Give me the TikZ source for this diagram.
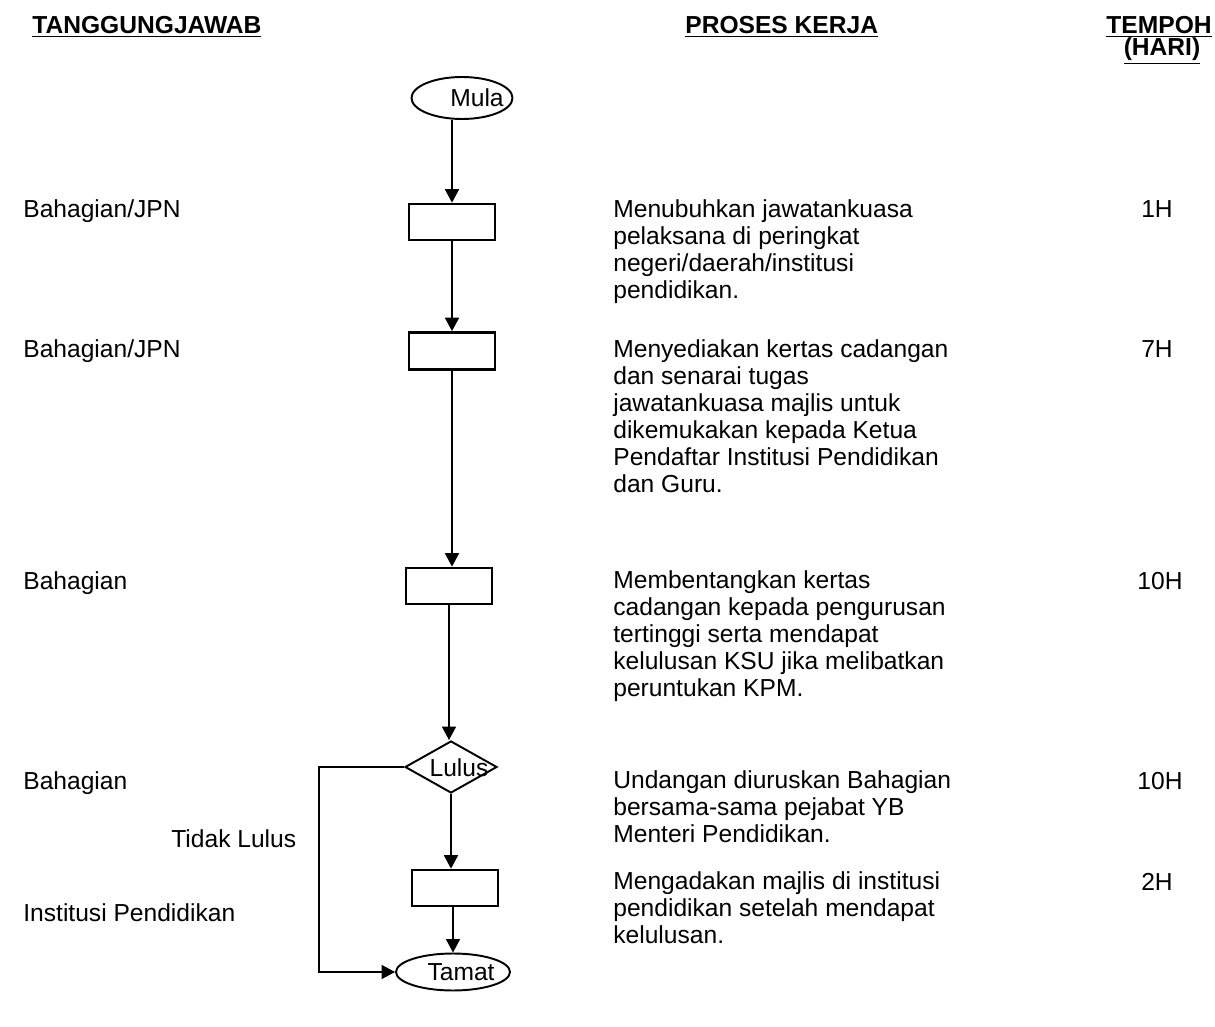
\documentclass[tikz,border=0pt]{standalone}
\usepackage{fontspec}
\setmainfont{Liberation Sans}
\usetikzlibrary{shapes.geometric,arrows.meta}
\begin{document}
\begin{tikzpicture}[x=0.02cm,y=-0.02cm,
    every node/.style={font=\fontsize{14}{15.4}\selectfont},
    tajuk/.style={font=\fontsize{14}{15.4}\selectfont\bfseries,anchor=base west,inner sep=0},
    label kiri/.style={anchor=base west,inner sep=0},
    langkah/.style={anchor=north west,align=left,inner sep=0},
    hari/.style={anchor=base,inner sep=0},
    proses/.style={draw,line width=1.5pt,minimum width=1.72cm,minimum height=0.72cm,inner sep=0},
    terminal/.style={draw,ellipse,line width=1.1pt,inner sep=0},
    keputusan/.style={draw,diamond,line width=1.1pt,minimum width=1.84cm,minimum height=1.04cm,inner sep=0},
    aliran/.style={line width=0.9pt,-{Triangle[length=0.27cm,width=0.28cm]}}]
  \useasboundingbox (0,0) rectangle (1215,1027);
  %% Tajuk lajur
  \node[tajuk] (tjawab) at (32,34) {\underline{TANGGUNGJAWAB}};
  \node[tajuk] (tproses) at (685,34) {\underline{PROSES KERJA}};
  \node[tajuk,anchor=base east] (ttempoh) at (1212,34) {\underline{TEMPOH}};
  \node[tajuk,anchor=base] (thari) at (1162,56) {\underline{(HARI)}};
  %% Carta alir
  \node[terminal,minimum width=2.02cm,minimum height=0.84cm] (mula) at (462,98) {};
  \node[hari] (tmula) at (477,107) {Mula};
  \node[proses] (b1) at (452,222) {};
  \node[proses,minimum height=0.74cm] (b2) at (452,351) {};
  \node[proses] (b3) at (449,586) {};
  \node[keputusan] (lulus) at (451,767) {};
  \node[hari] (tlulus) at (459,776) {Lulus};
  \node[proses] (b4) at (455,888) {};
  \node[terminal,minimum width=2.28cm,minimum height=0.74cm] (tamat) at (453,972) {};
  \node[hari] (ttamat) at (461,980) {Tamat};
  \coordinate (sudut) at (319,0);
  %% Anak panah
  \draw[aliran] (b1.north |- mula.south) -- (b1.north);
  \draw[aliran] (b1) -- (b2);
  \draw[aliran] (b2.south) -- (b2.south |- b3.north);
  \draw[aliran] (b3.south) -- (b3.south |- lulus.north);
  \draw[aliran] (lulus.south) -- (lulus.south |- b4.north);
  \draw[aliran] (b4.south -| tamat.north) -- (tamat.north);
  \draw[aliran] (lulus.west) -- (lulus.west -| sudut) -- (sudut |- tamat.west) -- (tamat.west);
  %% Tanggungjawab
  \node[label kiri] (j1) at (23,218) {Bahagian/JPN};
  \node[label kiri] (j2) at (23,358) {Bahagian/JPN};
  \node[label kiri] (j3) at (23,589) {Bahagian};
  \node[label kiri] (j4) at (23,789) {Bahagian};
  \node[label kiri] (tidak) at (171,847) {Tidak Lulus};
  \node[label kiri] (j5) at (23,921) {Institusi Pendidikan};
  %% Proses kerja
  \node[langkah] (p1) at (613,199) {Menubuhkan jawatankuasa\\pelaksana di peringkat\\negeri/daerah/institusi\\pendidikan.};
  \node[langkah] (p2) at (613,339) {Menyediakan kertas cadangan\\dan senarai tugas\\jawatankuasa majlis untuk\\dikemukakan kepada Ketua\\Pendaftar Institusi Pendidikan\\dan Guru.};
  \node[langkah] (p3) at (613,570) {Membentangkan kertas\\cadangan kepada pengurusan\\tertinggi serta mendapat\\kelulusan KSU jika melibatkan\\peruntukan KPM.};
  \node[langkah] (p4) at (613,770) {Undangan diuruskan Bahagian\\bersama-sama pejabat YB\\Menteri Pendidikan.};
  \node[langkah] (p5) at (613,871) {Mengadakan majlis di institusi\\pendidikan setelah mendapat\\kelulusan.};
  %% Tempoh
  \node[hari] (h1) at (1157,218) {1H};
  \node[hari] (h2) at (1157,358) {7H};
  \node[hari] (h3) at (1160,589) {10H};
  \node[hari] (h4) at (1160,789) {10H};
  \node[hari] (h5) at (1157,890) {2H};
\end{tikzpicture}
\end{document}
